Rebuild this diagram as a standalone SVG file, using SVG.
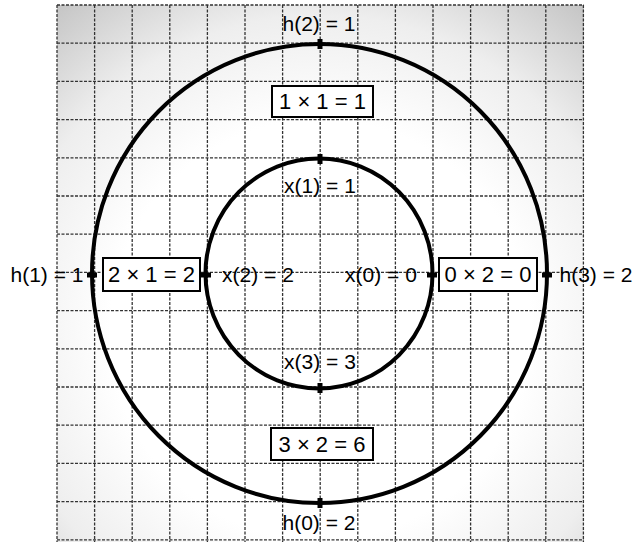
<svg xmlns="http://www.w3.org/2000/svg" width="639" height="542" viewBox="0 0 639 542">
<defs>
<radialGradient id="paper" gradientUnits="userSpaceOnUse" cx="320" cy="330" r="420">
<stop offset="0" stop-color="#ffffff"/>
<stop offset="0.5" stop-color="#ffffff"/>
<stop offset="0.75" stop-color="#eeeeee"/>
<stop offset="1" stop-color="#c4c4c4"/>
</radialGradient>
<style>
.grid line{stroke:#333;stroke-width:1.3;stroke-dasharray:3 1.5}
.ring{fill:none;stroke:#000;stroke-width:4}
.tick{stroke:#000;stroke-width:5}
.lbl{font-family:"Liberation Sans",Arial,sans-serif;font-size:21px;fill:#000;text-anchor:middle}
.bt{font-size:22px}
.box{fill:#fff;stroke:#000;stroke-width:2}
</style>
</defs>
<rect x="0" y="0" width="639" height="542" fill="#fff"/>
<rect x="57" y="5" width="527" height="537" fill="url(#paper)"/>
<g class="grid">
<line x1="57" y1="5" x2="57" y2="542"/>
<line x1="94.6" y1="5" x2="94.6" y2="542"/>
<line x1="132.2" y1="5" x2="132.2" y2="542"/>
<line x1="169.8" y1="5" x2="169.8" y2="542"/>
<line x1="207.4" y1="5" x2="207.4" y2="542"/>
<line x1="245" y1="5" x2="245" y2="542"/>
<line x1="282.6" y1="5" x2="282.6" y2="542"/>
<line x1="320.2" y1="5" x2="320.2" y2="542"/>
<line x1="357.8" y1="5" x2="357.8" y2="542"/>
<line x1="395.4" y1="5" x2="395.4" y2="542"/>
<line x1="433" y1="5" x2="433" y2="542"/>
<line x1="470.6" y1="5" x2="470.6" y2="542"/>
<line x1="508.2" y1="5" x2="508.2" y2="542"/>
<line x1="545.8" y1="5" x2="545.8" y2="542"/>
<line x1="583.4" y1="5" x2="583.4" y2="542"/>
<line x1="57" y1="5" x2="584" y2="5"/>
<line x1="57" y1="43.2" x2="584" y2="43.2"/>
<line x1="57" y1="81.4" x2="584" y2="81.4"/>
<line x1="57" y1="119.6" x2="584" y2="119.6"/>
<line x1="57" y1="157.8" x2="584" y2="157.8"/>
<line x1="57" y1="196" x2="584" y2="196"/>
<line x1="57" y1="234.2" x2="584" y2="234.2"/>
<line x1="57" y1="272.4" x2="584" y2="272.4"/>
<line x1="57" y1="310.6" x2="584" y2="310.6"/>
<line x1="57" y1="348.8" x2="584" y2="348.8"/>
<line x1="57" y1="387" x2="584" y2="387"/>
<line x1="57" y1="425.2" x2="584" y2="425.2"/>
<line x1="57" y1="463.4" x2="584" y2="463.4"/>
<line x1="57" y1="501.6" x2="584" y2="501.6"/>
<line x1="57" y1="539.8" x2="584" y2="539.8"/>
</g>
<g id="connectors">
<ellipse class="ring" cx="319.5" cy="273.5" rx="227.5" ry="229.5"/>
<ellipse class="ring" cx="319" cy="273.5" rx="113.5" ry="115"/>
</g>
<g id="h2">
<line class="tick" x1="320" y1="39" x2="320" y2="49"/>
<text class="lbl" x="319" y="31">h(2) = 1</text>
</g>
<g id="h1">
<line class="tick" x1="87" y1="275" x2="97" y2="275"/>
<text class="lbl" x="47" y="282">h(1) = 1</text>
</g>
<g id="h3">
<line class="tick" x1="542" y1="275" x2="552" y2="275"/>
<text class="lbl" x="596" y="282">h(3) = 2</text>
</g>
<g id="h0">
<line class="tick" x1="320" y1="498" x2="320" y2="508"/>
<text class="lbl" x="319" y="530">h(0) = 2</text>
</g>
<g id="x1">
<line class="tick" x1="320" y1="154" x2="320" y2="164"/>
<text class="lbl" x="320" y="193">x(1) = 1</text>
</g>
<g id="x2">
<line class="tick" x1="201" y1="275" x2="211" y2="275"/>
<text class="lbl" x="258" y="282">x(2) = 2</text>
</g>
<g id="x0">
<line class="tick" x1="427" y1="275" x2="437" y2="275"/>
<text class="lbl" x="381" y="282">x(0) = 0</text>
</g>
<g id="x3">
<line class="tick" x1="320" y1="383" x2="320" y2="393"/>
<text class="lbl" x="320" y="369">x(3) = 3</text>
</g>
<g id="b11">
<rect class="box" x="272" y="86" width="101" height="31"/>
<text class="lbl bt" x="322.5" y="109">1 × 1 = 1</text>
</g>
<g id="b21">
<rect class="box" x="103" y="258" width="97" height="33"/>
<text class="lbl bt" x="151.5" y="282">2 × 1 = 2</text>
</g>
<g id="b02">
<rect class="box" x="439" y="258" width="98" height="33"/>
<text class="lbl bt" x="488" y="282">0 × 2 = 0</text>
</g>
<g id="b32">
<rect class="box" x="271" y="428" width="102" height="32"/>
<text class="lbl bt" x="322" y="452">3 × 2 = 6</text>
</g>
</svg>
